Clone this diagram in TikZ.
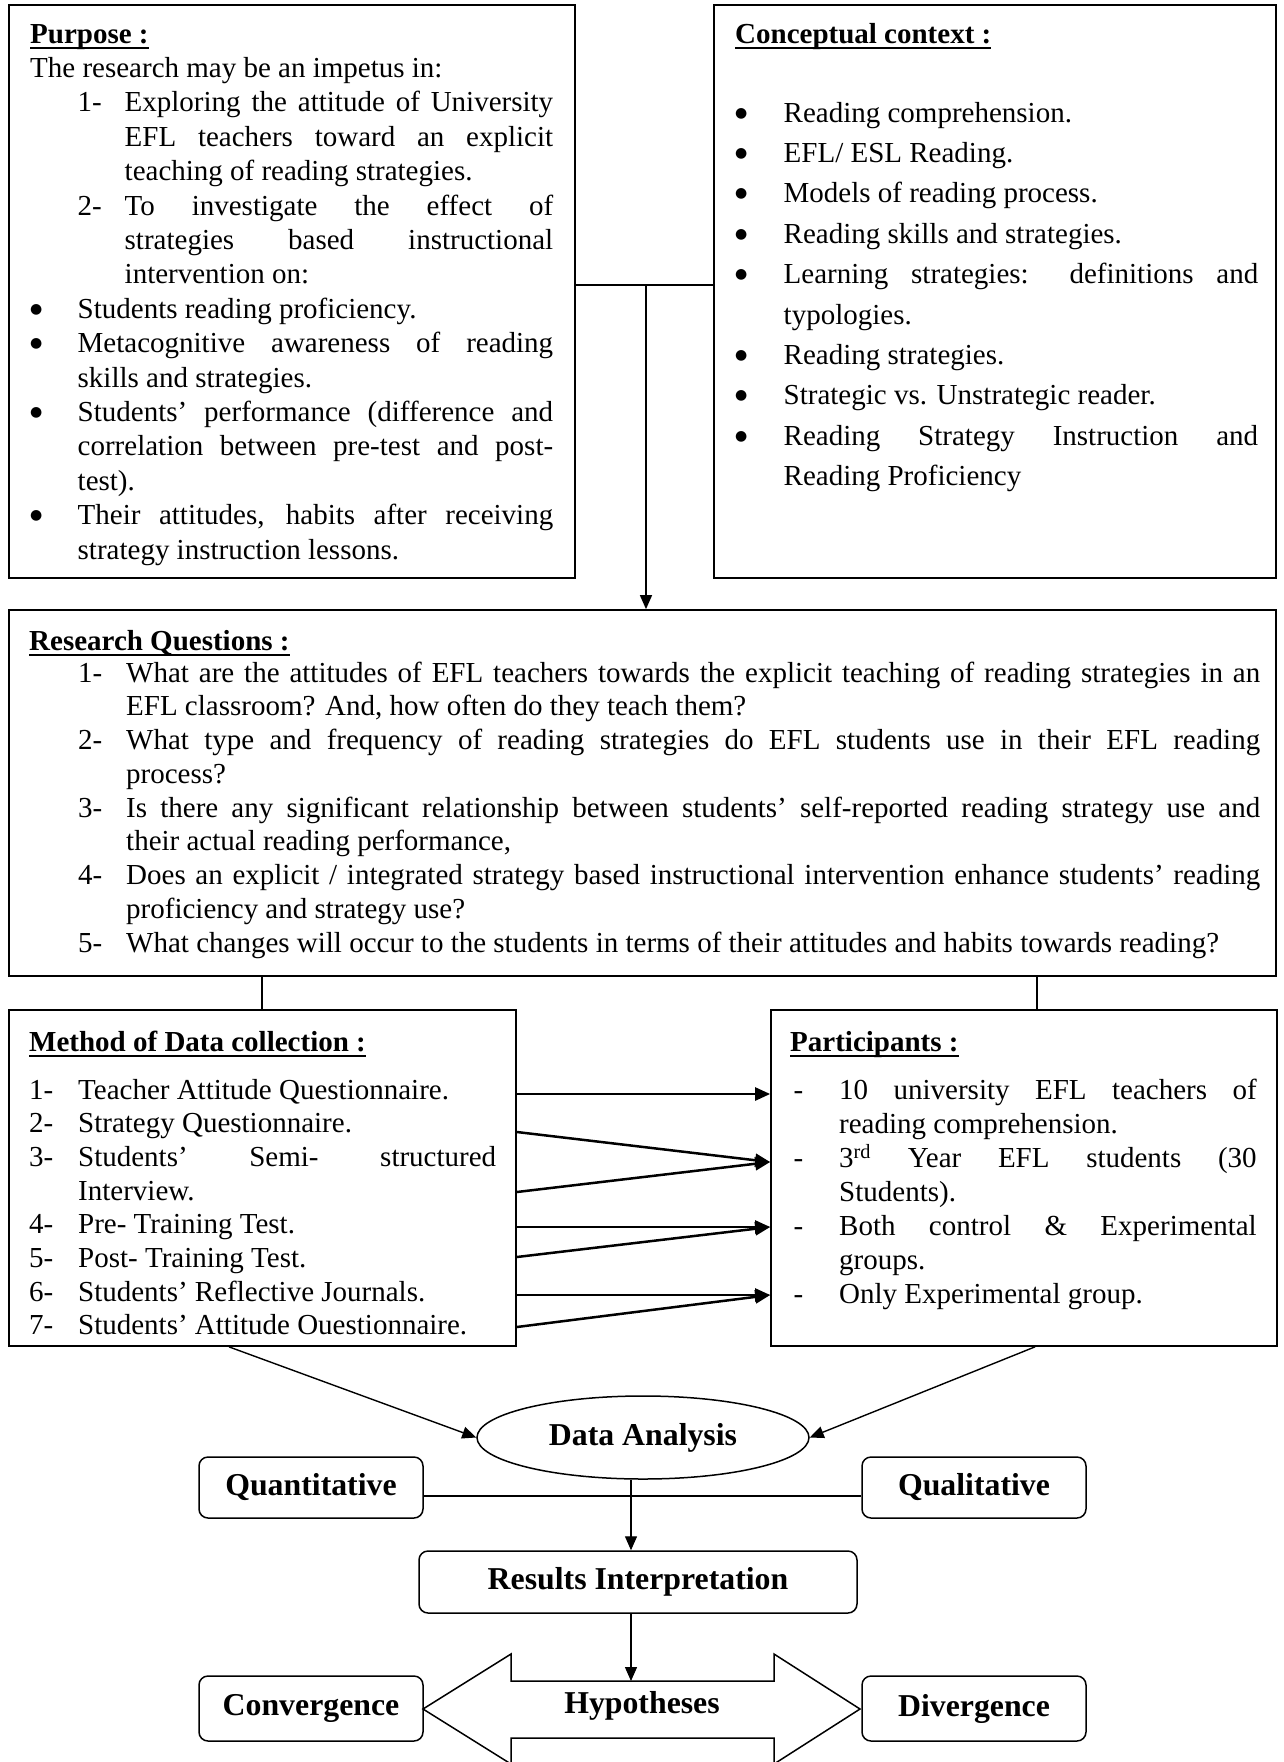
\documentclass[tikz,border=0pt]{standalone}
\usepackage{fontspec}
\setmainfont{Liberation Serif}
\newfontfamily\symfont{DejaVu Sans}
\usetikzlibrary{arrows.meta,shapes.geometric,calc}

% text sizes
\newcommand{\bodyfont}{\fontsize{29}{34}\selectfont}
\newcommand{\lblfont}{\fontsize{31.8}{36}\selectfont\bfseries}
% underlined heading
\newcommand{\ulhead}[1]{\setbox0\hbox{#1}\rlap{\rule[-6pt]{\wd0}{2pt}}\box0}
% list bullet
\newcommand{\bigbullet}{\raisebox{5pt}{\symfont\fontsize{14}{14}\selectfont ●}}
% a line of text starting #1 pt from the left
\newcommand{\txtline}[2][0]{\hbox{\hskip#1pt #2}}
% a marked line: marker at #1, marker column #2 wide, then text
\newcommand{\mkline}[4]{\hbox{\hskip#1pt\hbox to #2pt{#3\hfil}#4}}
% a justified line of the given width
\newcommand{\just}[2]{\makebox[#1pt][s]{#2}}
% a block of lines with a fixed baseline distance
\newcommand{\lines}[2]{\vtop{\baselineskip=#1pt\lineskiplimit=-100pt\lineskip=0pt #2}}

\begin{document}
\begin{tikzpicture}[x=1pt,y=-1pt,
  frame/.style={draw, line width=1.7pt, rectangle, inner sep=0pt},
  rbox/.style={draw, line width=1.5pt, rounded corners=9pt, inner sep=0pt, font=\lblfont},
  conn/.style={line width=1.4pt},
  tip/.style={-{Triangle[length=14pt,width=12pt]}},
  heavy/.style={line width=2.5pt, -{Triangle[length=15pt,width=13pt]}},
  txt/.style={anchor=base west, inner sep=0pt, font=\bodyfont},
  head/.style={anchor=base west, inner sep=0pt, font=\bodyfont\bfseries}]

\path[use as bounding box] (0,0) rectangle (1283,1762);
\fill[white] (0,0) rectangle (1283,1762);
\clip (0,0) rectangle (1283,1762);

% ---------- frames ----------
\node[frame, minimum width=566pt, minimum height=573pt] (purpose) at (292,291.5) {};
\node[frame, minimum width=562pt, minimum height=573pt] (concept) at (995,291.5) {};
\node[frame, minimum width=1267pt, minimum height=366pt] (rq) at (642.5,793) {};
\node[frame, minimum width=507pt, minimum height=336pt] (method) at (262.5,1178) {};
\node[frame, minimum width=506pt, minimum height=336pt] (part) at (1024,1178) {};

% ---------- Purpose ----------
\node[head] (purposehead) at (30,43) {\ulhead{Purpose :}};
\node[txt] (purposetext) at (30,77.4) {\lines{34.4}{%
  \txtline{The research may be an impetus in:}
  \mkline{47.5}{47}{1-}{\just{428.5}{Exploring the attitude of University}}
  \txtline[94.5]{\just{428.5}{EFL teachers toward an explicit}}
  \txtline[94.5]{teaching of reading strategies.}
  \mkline{47.5}{47}{2-}{\just{428.5}{To investigate the effect of}}
  \txtline[94.5]{\just{428.5}{strategies based instructional}}
  \txtline[94.5]{intervention on:}
  \mkline{0}{47.5}{\bigbullet}{Students reading proficiency.}
  \mkline{0}{47.5}{\bigbullet}{\just{475.5}{Metacognitive awareness of reading}}
  \txtline[47.5]{skills and strategies.}
  \mkline{0}{47.5}{\bigbullet}{\just{475.5}{Students’ performance (difference and}}
  \txtline[47.5]{\just{475.5}{correlation between pre-test and post-}}
  \txtline[47.5]{test).}
  \mkline{0}{47.5}{\bigbullet}{\just{475.5}{Their attitudes, habits after receiving}}
  \txtline[47.5]{strategy instruction lessons.}}};

% ---------- Conceptual context ----------
\node[head] (concepthead) at (735,43) {\ulhead{Conceptual context :}};
\node[txt] (concepttext) at (735,122) {\lines{40.4}{%
  \mkline{0}{48.5}{\bigbullet}{Reading comprehension.}
  \mkline{0}{48.5}{\bigbullet}{EFL/ ESL Reading.}
  \mkline{0}{48.5}{\bigbullet}{Models of reading process.}
  \mkline{0}{48.5}{\bigbullet}{Reading skills and strategies.}
  \mkline{0}{48.5}{\bigbullet}{\just{474.5}{Learning strategies: definitions and}}
  \txtline[48.5]{typologies.}
  \mkline{0}{48.5}{\bigbullet}{Reading strategies.}
  \mkline{0}{48.5}{\bigbullet}{Strategic vs. Unstrategic reader.}
  \mkline{0}{48.5}{\bigbullet}{\just{474.5}{Reading Strategy Instruction and}}
  \txtline[48.5]{Reading Proficiency}}};

% ---------- Research questions ----------
\node[head] (rqhead) at (29,650) {\ulhead{Research Questions :}};
\node[txt] (rqtext) at (78,682) {\lines{33.75}{%
  \mkline{0}{48}{1-}{\just{1134}{What are the attitudes of EFL teachers towards the explicit teaching of reading strategies in an}}
  \txtline[48]{EFL classroom? And, how often do they teach them?}
  \mkline{0}{48}{2-}{\just{1134}{What type and frequency of reading strategies do EFL students use in their EFL reading}}
  \txtline[48]{process?}
  \mkline{0}{48}{3-}{\just{1134}{Is there any significant relationship between students’ self-reported reading strategy use and}}
  \txtline[48]{their actual reading performance,}
  \mkline{0}{48}{4-}{\just{1134}{Does an explicit / integrated strategy based instructional intervention enhance students’ reading}}
  \txtline[48]{proficiency and strategy use?}
  \mkline{0}{48}{5-}{What changes will occur to the students in terms of their attitudes and habits towards reading?}}};

% ---------- Method of data collection ----------
\node[head] (methodhead) at (29,1051) {\ulhead{Method of Data collection :}};
\node[txt] (methodtext) at (29,1099) {\lines{33.7}{%
  \mkline{0}{49}{1-}{Teacher Attitude Questionnaire.}
  \mkline{0}{49}{2-}{Strategy Questionnaire.}
  \mkline{0}{49}{3-}{\just{418}{Students’ Semi- structured}}
  \txtline[49]{Interview.}
  \mkline{0}{49}{4-}{Pre- Training Test.}
  \mkline{0}{49}{5-}{Post- Training Test.}
  \mkline{0}{49}{6-}{Students’ Reflective Journals.}
  \mkline{0}{49}{7-}{Students’ Attitude Ouestionnaire.}}};

% ---------- Participants ----------
\node[head] (parthead) at (790,1051) {\ulhead{Participants :}};
\node[txt] (parttext) at (793.5,1099.6) {\lines{34}{%
  \mkline{0}{45.5}{-}{\just{417.5}{10 university EFL teachers of}}
  \txtline[45.5]{reading comprehension.}
  \mkline{0}{45.5}{-}{\just{417.5}{3\textsuperscript{rd} Year EFL students (30}}
  \txtline[45.5]{Students).}
  \mkline{0}{45.5}{-}{\just{417.5}{Both control \& Experimental}}
  \txtline[45.5]{groups.}
  \mkline{0}{45.5}{-}{Only Experimental group.}}};

% ---------- lower flow ----------
\node[draw, ellipse, line width=1.5pt, minimum width=332pt, minimum height=83pt,
      inner sep=0pt, font=\lblfont] (da) at (643,1437.5) {Data Analysis};
\node[rbox, minimum width=224pt, minimum height=61pt] (quant) at (311,1487.5) {Quantitative};
\node[rbox, minimum width=224pt, minimum height=61pt] (qual) at (974,1487.5) {Qualitative};
\node[rbox, minimum width=438pt, minimum height=62pt] (res) at (638,1582) {Results Interpretation};

% double-headed block arrow
\draw[line width=1.5pt, fill=white] (511,1681) -- (511,1654) -- (423,1709) -- (511,1764)
  -- (511,1738) -- (774,1738) -- (774,1764) -- (860,1709) -- (774,1654) -- (774,1681) -- cycle;
\coordinate (hyptop) at (631,1681);
\node[inner sep=0pt, font=\lblfont] (hyp) at (642,1706) {Hypotheses};
\node[rbox, minimum width=224pt, minimum height=65pt] (conv) at (311,1708.5) {Convergence};
\node[rbox, minimum width=224pt, minimum height=65pt] (div) at (974,1708.5) {Divergence};

% ---------- connectors ----------
\coordinate (join) at (646,285);
\draw[conn] (purpose.east |- join) -- (concept.west |- join);
\draw[conn, tip] (join) -- (rq.north -| join);

\draw[conn] (rq.south -| 262,0) -- (method.north -| 262,0);
\draw[conn] (rq.south -| 1037,0) -- (part.north -| 1037,0);

\draw[heavy] (method.east |- 0,1094) -- (part.west |- 0,1094);
\draw[heavy] (method.east |- 0,1132) -- (part.west |- 0,1162);
\draw[heavy] (method.east |- 0,1192) -- (part.west |- 0,1162);
\draw[heavy] (method.east |- 0,1227) -- (part.west |- 0,1227);
\draw[heavy] (method.east |- 0,1257) -- (part.west |- 0,1227);
\draw[heavy] (method.east |- 0,1295) -- (part.west |- 0,1295);
\draw[heavy] (method.east |- 0,1327) -- (part.west |- 0,1295);

\draw[conn, tip] (method.south -| 229,0) -- (da.west);
\draw[conn, tip] (part.south -| 1035,0) -- (da.east);

\draw[conn] (quant.east |- 0,1496) -- (qual.west |- 0,1496);
\draw[conn, tip] (da.south -| 631,0) -- (res.north -| 631,0);
\draw[conn, tip] (res.south -| hyptop) -- (hyptop);

\end{tikzpicture}
\end{document}
